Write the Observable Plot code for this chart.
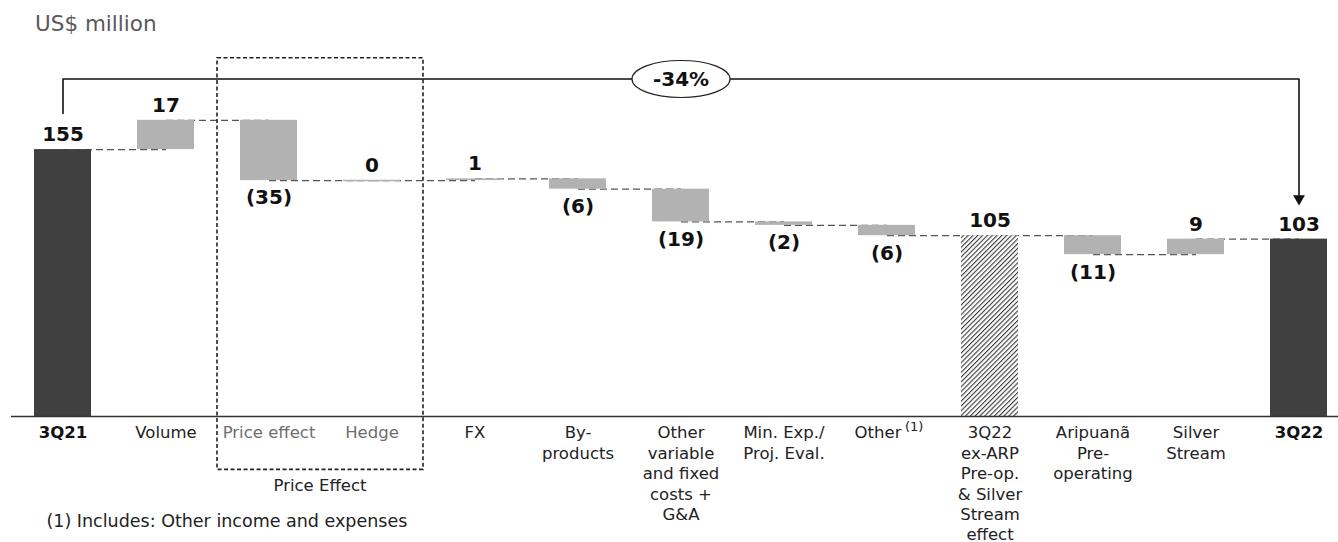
<!DOCTYPE html>
<html><head><meta charset="utf-8">
<script src="https://cdn.jsdelivr.net/npm/d3@7"></script>
<script src="https://cdn.jsdelivr.net/npm/@observablehq/plot@0.6"></script>
<style>
html,body{margin:0;padding:0;background:#fff;}
body{font-family:"DejaVu Sans",Verdana,sans-serif;width:1338px;overflow:hidden;}
#title{height:44px;box-sizing:border-box;padding:11px 0 0 35px;font-size:21.5px;line-height:26px;color:#595959;}
</style></head><body>
<div id="title">US$ million</div>
<div id="chart"></div>
<script>
// ---- data ----
const categories = ["3Q21","Volume","Price effect","Hedge","FX","By-products","Other variable and fixed costs + G&A","Min. Exp./Proj. Eval.","Other","3Q22 ex-ARP Pre-op. & Silver Stream effect","Aripuanã Pre-operating","Silver Stream","3Q22"];
const tickLabels = ["3Q21","Volume","Price effect","Hedge","FX","By-\nproducts","Other\nvariable\nand fixed\ncosts +\nG&A","Min. Exp./\nProj. Eval.","Other","3Q22\nex-ARP\nPre-op.\n& Silver\nStream\neffect","Aripuanã\nPre-\noperating","Silver\nStream","3Q22"];
const values = [155, 17, -35, 0, 1, -6, -19, -2, -6, 105, -11, 9, 103];
const kinds = ["total","delta","delta","delta","delta","delta","delta","delta","delta","subtotal","delta","delta","total"];
const footnoteRefs = ["","","","","","","","","(1)","","","",""];
const groupMembers = ["Price effect","Hedge"];
const groupLabel = "Price Effect";
const footnote = "(1) Includes: Other income and expenses";

// ---- derived rows ----
let run = 0;
const rows = categories.map((c, i) => {
  const k = kinds[i], v = values[i];
  let y1, y2;
  if (k !== "delta") { y1 = 0; y2 = v; } else { y1 = run; y2 = run + v; }
  run = y2;
  return {cat: c, label: tickLabels[i], ref: footnoteRefs[i], kind: k, value: v, y1, y2,
          top: Math.max(y1, y2), bottom: Math.min(y1, y2), end: run,
          text: v < 0 ? `(${-v})` : `${v}`};
});
const connectors = rows.slice(0, -1).map((d, i) => ({a: d.cat, b: rows[i + 1].cat, y: d.end}));
const first = rows[0], last = rows[rows.length - 1];
const maxLevel = d3.max(rows, d => d.top);
const bracketTop = maxLevel + 24;
const bracket = [
  {x: first.cat, y: first.value + 21},
  {x: first.cat, y: bracketTop},
  {x: last.cat, y: bracketTop},
  {x: last.cat, y: last.value + 23.5}
];
const midCat = categories[Math.floor(categories.length / 2)];
const pct = Math.round((last.value / first.value - 1) * 100);
const pctLabel = `${pct}%`;
const boxTop = maxLevel + 36, boxBottom = -31;

const colorOf = k => k === "total" ? "#404040" : k === "subtotal" ? "url(#hatch)" : "#b2b2b2";
const ellipse = {draw(ctx) {
  const rx = 49, ry = 18.5, k = 0.5523;
  ctx.moveTo(rx, 0);
  ctx.bezierCurveTo(rx, ry * k, rx * k, ry, 0, ry);
  ctx.bezierCurveTo(-rx * k, ry, -rx, ry * k, -rx, 0);
  ctx.bezierCurveTo(-rx, -ry * k, -rx * k, -ry, 0, -ry);
  ctx.bezierCurveTo(rx * k, -ry, rx, -ry * k, rx, 0);
  ctx.closePath();
}};

const FS = 16.5;
const labelCommon = {x: "cat", y: () => 0, lineAnchor: "top", dy: 7.5, fontSize: FS, lineHeight: 1.236, text: "label"};

const chart = Plot.plot({
  width: 1338, height: 498,
  marginLeft: 11, marginRight: 0, marginTop: 0, marginBottom: 0,
  style: "font-family:'DejaVu Sans',Verdana,sans-serif;background:#fff;overflow:visible;",
  x: {type: "band", domain: categories, range: [10.5, 1349.5], paddingInner: 0.45, paddingOuter: 0.225, axis: null},
  y: {domain: [0, 200], range: [372, 372 - 344.4], axis: null},
  marks: [
    Plot.link(connectors, {x1: "a", x2: "b", y1: "y", y2: "y", stroke: "#555", strokeWidth: 1.3, strokeDasharray: "7,4"}),
    Plot.barY(rows, {x: "cat", y1: "y1", y2: "y2", fill: d => colorOf(d.kind)}),
    Plot.tickY(rows.filter(d => d.kind === "delta" && d.value === 0), {x: "cat", y: "y1", stroke: "#b2b2b2", strokeWidth: 1.5}),
    Plot.ruleY([0], {stroke: "#333", strokeWidth: 1.5}),
    // value labels
    Plot.text(rows.filter(d => d.value >= 0), {x: "cat", y: "top", text: "text", dy: -15, fontSize: 20, fontWeight: "bold", fill: "#111"}),
    Plot.text(rows.filter(d => d.value < 0), {x: "cat", y: "bottom", text: "text", dy: 17.5, fontSize: 20, fontWeight: "bold", fill: "#111"}),
    // category labels
    Plot.text(rows.filter(d => d.kind === "total"), {...labelCommon, fontWeight: "bold", fill: "#111"}),
    Plot.text(rows.filter(d => d.kind !== "total" && !groupMembers.includes(d.cat) && !d.ref), {...labelCommon, fill: "#222"}),
    Plot.text(rows.filter(d => groupMembers.includes(d.cat)), {...labelCommon, fill: "#6e6e6e"}),
    Plot.text(rows.filter(d => d.ref), {...labelCommon, dx: -9, fill: "#222"}),
    Plot.text(rows.filter(d => d.ref), {x: "cat", y: () => 0, text: "ref", lineAnchor: "top", textAnchor: "start", dx: 18, dy: 5, fontSize: 13, fill: "#222"}),
    // bracket
    Plot.line(bracket, {x: "x", y: "y", stroke: "#111", strokeWidth: 1.6}),
    Plot.dot([last], {x: "cat", y: d => d.value + 23.5, symbol: "triangle", r: 4.4, rotate: 180, fill: "#111", stroke: "none"}),
    Plot.dot([{cat: midCat}], {x: "cat", y: () => bracketTop, symbol: ellipse, r: 5, fill: "#fff", stroke: "#222", strokeWidth: 1.2}),
    Plot.text([pctLabel], {x: () => midCat, y: () => bracketTop, text: d => d, fontSize: 20, fontWeight: "bold", fill: "#111", dy: 1}),
    // footnote
    Plot.text([footnote], {frameAnchor: "bottom-left", text: d => d, textAnchor: "start", dx: 35, dy: -16, fontSize: 17.5, fill: "#222"})
  ]
});

// hatch pattern + dashed group box via the plot's own scales
const s = d3.select(chart);
const defs = s.insert("defs", ":first-child");
const pat = defs.append("pattern").attr("id", "hatch").attr("patternUnits", "userSpaceOnUse")
  .attr("width", 3.4).attr("height", 3.4).attr("patternTransform", "rotate(45)");
pat.append("rect").attr("width", 3.4).attr("height", 3.4).attr("fill", "#fff");
pat.append("rect").attr("width", 1.1).attr("height", 3.4).attr("fill", "#3a3a3a");

const sx = chart.scale("x"), sy = chart.scale("y");
const bw = sx.bandwidth;
const step = sx.step ?? (sx.apply(categories[1]) - sx.apply(categories[0]));
const gap = (step - bw) / 2;
const bx0 = sx.apply(groupMembers[0]) - gap;
const bx1 = sx.apply(groupMembers[groupMembers.length - 1]) + bw + gap;
const by0 = sy.apply(boxTop), by1 = sy.apply(boxBottom);
s.append("rect").attr("x", bx0).attr("y", by0).attr("width", bx1 - bx0).attr("height", by1 - by0)
  .attr("fill", "none").attr("stroke", "#222").attr("stroke-width", 1.6).attr("stroke-dasharray", "4,2.5");
s.append("text").attr("x", (bx0 + bx1) / 2).attr("y", by1 + 16).attr("dy", "0.35em")
  .attr("text-anchor", "middle").attr("font-size", FS).attr("fill", "#222").text(groupLabel);

document.getElementById("chart").appendChild(chart);
</script>
</body></html>
